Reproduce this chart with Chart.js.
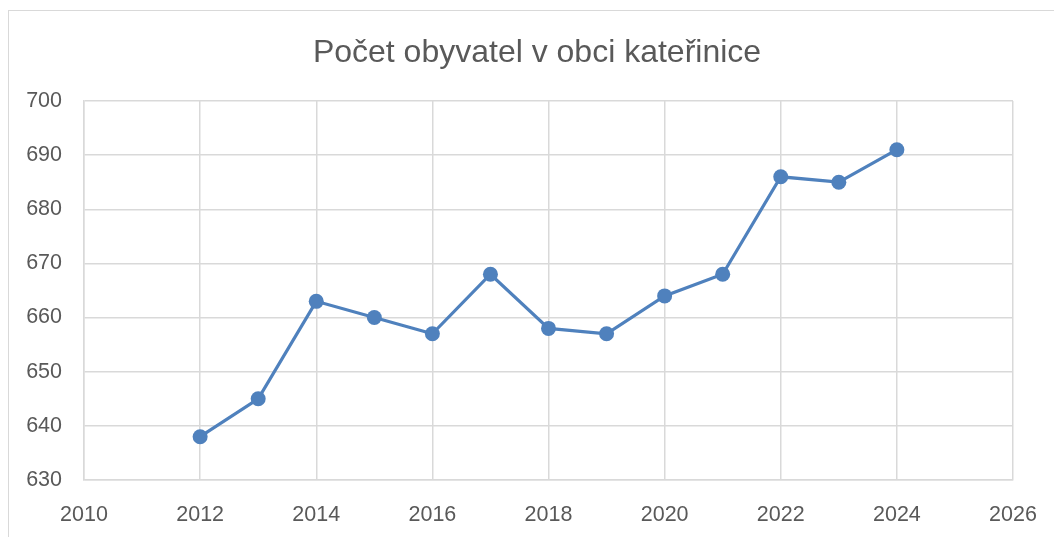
<!DOCTYPE html>
<html><head><meta charset="utf-8">
<script src="https://cdn.jsdelivr.net/npm/chart.js@4"></script>
<style>html,body{margin:0;padding:0;background:#fff;}#wrap{width:1054px;height:537px;}</style>
</head><body><div id="wrap"><canvas id="c" width="1054" height="537"></canvas></div>
<script>
const titleText = "Počet obyvatel v obci kateřinice";
const years = [2012, 2013, 2014, 2015, 2016, 2017, 2018, 2019, 2020, 2021, 2022, 2023, 2024];
const population = [638, 645, 663, 660, 657, 668, 658, 657, 664, 668, 686, 685, 691];
const xTicks = [2010, 2012, 2014, 2016, 2018, 2020, 2022, 2024, 2026];
const yTicks = [630, 640, 650, 660, 670, 680, 690, 700];

const points = years.map((y, i) => ({x: y, y: population[i]}));
const FONT = "'Liberation Sans', Arial, sans-serif";
const GRID = '#d9d9d9';
const TXT = '#595959';

const borderPlugin = {
  id: 'outerBorder',
  beforeDraw(chart) {
    const ctx = chart.ctx;
    ctx.save();
    ctx.fillStyle = '#fff';
    ctx.fillRect(0, 0, chart.width, chart.height);
    ctx.strokeStyle = GRID;
    ctx.lineWidth = 1;
    ctx.strokeRect(8.5, 10.5, chart.width + 20, chart.height + 20);
    ctx.restore();
  },
  afterDraw(chart) {
    const ctx = chart.ctx;
    ctx.save();
    ctx.fillStyle = TXT;
    ctx.font = "32px " + FONT;
    ctx.textAlign = 'center';
    ctx.textBaseline = 'middle';
    ctx.fillText(titleText, 537, 53.2);
    ctx.restore();
  }
};

new Chart(document.getElementById('c'), {
  type: 'line',
  data: {
    datasets: [{
      data: points,
      borderColor: '#4f81bd',
      backgroundColor: '#4f81bd',
      borderWidth: 3.2,
      pointRadius: 7.5,
      pointHoverRadius: 7.5,
      pointBorderWidth: 0,
      tension: 0
    }]
  },
  options: {
    responsive: false,
    animation: false,
    layout: {padding: {left: 20, right: 41, top: 101, bottom: 0}},
    plugins: {
      legend: {display: false},
      tooltip: {enabled: false},
      title: {display: false}
    },
    scales: {
      x: {
        type: 'linear',
        min: xTicks[0],
        max: xTicks[xTicks.length - 1],
        afterBuildTicks(s) { s.ticks = xTicks.map(v => ({value: v})); },
        afterFit(s) { s.height = 57; s.paddingRight = 0; s.paddingLeft = 0; },
        grid: {color: GRID, lineWidth: 1.5, drawTicks: false},
        border: {color: GRID, width: 1.5},
        ticks: {color: TXT, font: {family: FONT, size: 21.5}, padding: 22, maxRotation: 0, autoSkip: false, callback: v => String(v)}
      },
      y: {
        min: yTicks[0],
        max: yTicks[yTicks.length - 1],
        afterBuildTicks(s) { s.ticks = yTicks.map(v => ({value: v})); },
        afterFit(s) { s.width = 64; s.paddingTop = 0; s.paddingBottom = 0; },
        grid: {color: GRID, lineWidth: 1.5, drawTicks: false},
        border: {color: GRID, width: 1.5},
        ticks: {color: TXT, font: {family: FONT, size: 21.5}, padding: 22, autoSkip: false}
      }
    }
  },
  plugins: [borderPlugin]
});
</script>
</body></html>
